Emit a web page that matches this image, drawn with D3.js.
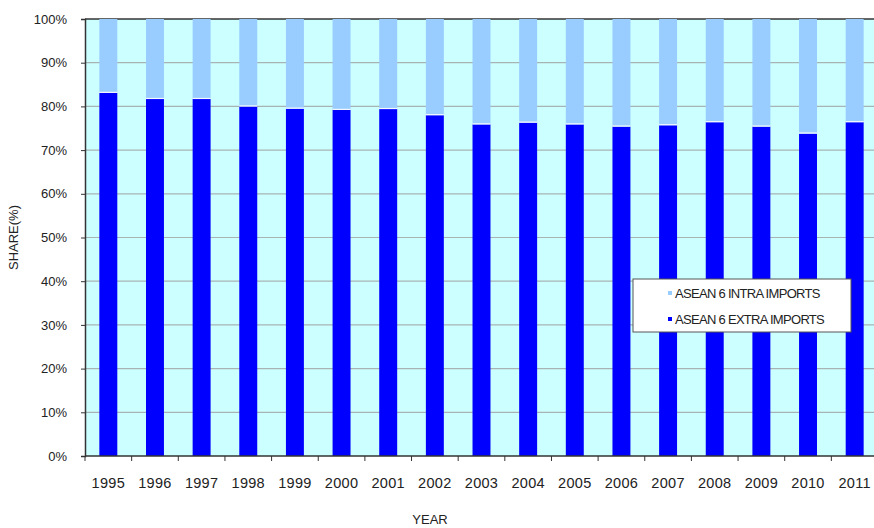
<!DOCTYPE html>
<html>
<head>
<meta charset="utf-8">
<script src="https://cdn.jsdelivr.net/npm/d3@7"></script>
<style>
  body { margin: 0; background: #fff; }
  text { font-family: Arial, "Liberation Sans", sans-serif; fill: #222; }
</style>
</head>
<body>
<div id="chart"></div>
<script>
// data
var years = ["1995", "1996", "1997", "1998", "1999", "2000", "2001", "2002", "2003",
  "2004", "2005", "2006", "2007", "2008", "2009", "2010", "2011"];
var extraImports = [83.1, 81.7, 81.7, 80.0, 79.5, 79.2, 79.4, 78.0, 75.9,
  76.3, 75.9, 75.4, 75.7, 76.4, 75.4, 73.8, 76.4];
var intraImports = extraImports.map(function (v) { return 100 - v; });
var yTicks = [0, 10, 20, 30, 40, 50, 60, 70, 80, 90, 100];

var width = 874, height = 528;
var margin = { left: 85, top: 19, right: -4, bottom: 72 };

var svg = d3.select("#chart").append("svg")
  .attr("width", width)
  .attr("height", height);

var x = d3.scaleBand()
  .domain(years)
  .range([margin.left, width - margin.right])
  .paddingInner(0.615)
  .paddingOuter(0.3075);

var y = d3.scaleLinear()
  .domain([0, 100])
  .range([height - margin.bottom, margin.top]);

// plot background
svg.append("rect")
  .attr("x", margin.left)
  .attr("y", margin.top)
  .attr("width", width - margin.right - margin.left)
  .attr("height", y(0) - y(100))
  .attr("fill", "#ccffff");

// grid lines
svg.append("g")
  .selectAll("line")
  .data(yTicks.slice(1, -1))
  .enter().append("line")
  .attr("x1", margin.left)
  .attr("x2", width)
  .attr("y1", function (d) { return y(d); })
  .attr("y2", function (d) { return y(d); })
  .attr("stroke", "#a8b4b4")
  .attr("stroke-width", 1.2);

svg.append("line")
  .attr("x1", margin.left).attr("x2", width)
  .attr("y1", y(100)).attr("y2", y(100))
  .attr("stroke", "#333").attr("stroke-width", 1.5);

// stacked bars
var bars = svg.append("g");
bars.selectAll(".extra")
  .data(years)
  .enter().append("rect")
  .attr("class", "extra")
  .attr("x", function (d) { return x(d); })
  .attr("width", x.bandwidth())
  .attr("y", function (d, i) { return y(extraImports[i]); })
  .attr("height", function (d, i) { return y(0) - y(extraImports[i]); })
  .attr("fill", "#0000ff");

bars.selectAll(".intra")
  .data(years)
  .enter().append("rect")
  .attr("class", "intra")
  .attr("x", function (d) { return x(d); })
  .attr("width", x.bandwidth())
  .attr("y", function (d, i) { return y(extraImports[i] + intraImports[i]); })
  .attr("height", function (d, i) { return y(extraImports[i]) - y(extraImports[i] + intraImports[i]); })
  .attr("fill", "#99ccff");

bars.selectAll(".sep")
  .data(years)
  .enter().append("line")
  .attr("x1", function (d) { return x(d); })
  .attr("x2", function (d) { return x(d) + x.bandwidth(); })
  .attr("y1", function (d, i) { return y(extraImports[i]) - 0.5; })
  .attr("y2", function (d, i) { return y(extraImports[i]) - 0.5; })
  .attr("stroke", "#f4f8ff")
  .attr("stroke-width", 1.2);

// y axis
var yAxis = svg.append("g")
  .attr("transform", "translate(" + margin.left + ",0)")
  .call(d3.axisLeft(y).tickValues(yTicks).tickSize(4).tickPadding(14)
    .tickFormat(function (d) { return d + "%"; }));
yAxis.select(".domain").attr("stroke", "#333").attr("stroke-width", 1.5);
yAxis.selectAll(".tick line").attr("stroke", "#333");
yAxis.selectAll("text").style("font-size", "13px");

// x axis
var step = x.step();
var xAxis = svg.append("g")
  .attr("transform", "translate(0," + y(0) + ")");
xAxis.append("line")
  .attr("x1", margin.left).attr("x2", width)
  .attr("stroke", "#333").attr("stroke-width", 1.5);
xAxis.selectAll(".xt")
  .data(years)
  .enter().append("line")
  .attr("x1", function (d) { return x(d) - x.paddingOuter() * step; })
  .attr("x2", function (d) { return x(d) - x.paddingOuter() * step; })
  .attr("y1", 0).attr("y2", 5)
  .attr("stroke", "#333");
xAxis.selectAll(".xl")
  .data(years)
  .enter().append("text")
  .attr("x", function (d) { return x(d) + x.bandwidth() / 2; })
  .attr("y", 32)
  .attr("text-anchor", "middle")
  .style("font-size", "14.5px")
  .style("letter-spacing", "0.3px")
  .text(function (d) { return d; });

// axis titles
svg.append("text")
  .attr("transform", "translate(18," + ((y(0) + y(100)) / 2) + ") rotate(-90)")
  .attr("text-anchor", "middle")
  .style("font-size", "13px")
  .text("SHARE(%)");

svg.append("text")
  .attr("x", 430)
  .attr("y", 524)
  .attr("text-anchor", "middle")
  .style("font-size", "13px")
  .text("YEAR");

// legend
var legend = svg.append("g").attr("transform", "translate(633,279)");
legend.append("rect")
  .attr("width", 218).attr("height", 53)
  .attr("fill", "#fff")
  .attr("stroke", "#555");
var legendItems = [
  { label: "ASEAN 6 INTRA IMPORTS", color: "#99ccff" },
  { label: "ASEAN 6 EXTRA IMPORTS", color: "#0000ff" }
];
var li = legend.selectAll(".li")
  .data(legendItems)
  .enter().append("g")
  .attr("transform", function (d, i) { return "translate(39," + (14 + i * 26) + ")"; });
li.append("rect")
  .attr("x", -4).attr("y", -2)
  .attr("width", 4).attr("height", 4)
  .attr("fill", function (d) { return d.color; });
li.append("text")
  .attr("x", 3).attr("y", 4.5)
  .style("font-size", "13px")
  .style("letter-spacing", "-0.7px")
  .text(function (d) { return d.label; });
</script>
</body>
</html>
